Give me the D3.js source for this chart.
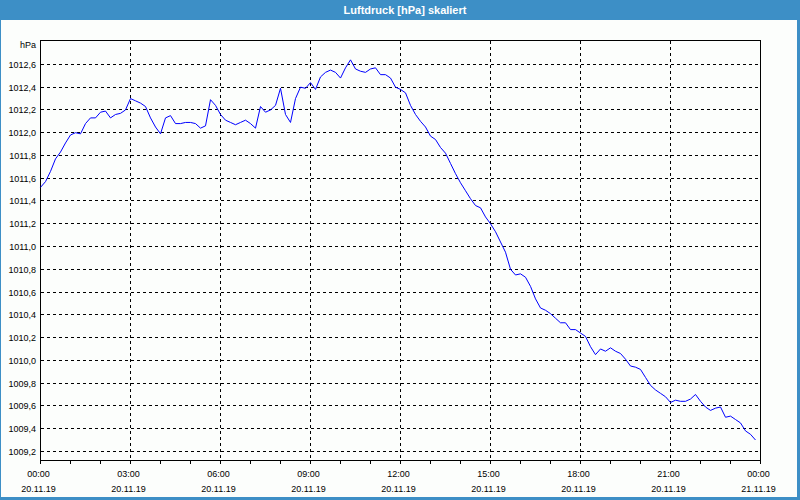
<!DOCTYPE html>
<html>
<head>
<meta charset="utf-8">
<script src="https://cdn.jsdelivr.net/npm/d3@7"></script>
<style>
  html, body { margin: 0; padding: 0; background: #fcfefc; }
  svg { display: block; }
  text { font-family: "Liberation Sans", Arial, sans-serif; }
</style>
</head>
<body>
<svg id="chart" width="800" height="500"></svg>
<script>
// ---- data ----
const title = "Luftdruck [hPa] skaliert";
const unitLabel = "hPa";
const startTime = "2019-11-20T00:00:00";
const endTime = "2019-11-21T00:00:00";
const sampleMinutes = 10;
// pressure values every 10 minutes from 00:00 to 23:50
const pressure = [
  1011.52, 1011.57, 1011.66, 1011.77, 1011.83, 1011.91, 1011.98, 1012.00, 1011.99, 1012.08,
  1012.13, 1012.13, 1012.18, 1012.19, 1012.13, 1012.16, 1012.17, 1012.20, 1012.30, 1012.28,
  1012.26, 1012.23, 1012.13, 1012.05, 1011.99, 1012.13, 1012.15, 1012.08, 1012.08, 1012.09,
  1012.09, 1012.08, 1012.04, 1012.06, 1012.29, 1012.24, 1012.16, 1012.11, 1012.09, 1012.07,
  1012.09, 1012.11, 1012.08, 1012.04, 1012.23, 1012.18, 1012.20, 1012.24, 1012.39, 1012.16,
  1012.09, 1012.30, 1012.40, 1012.39, 1012.44, 1012.38, 1012.49, 1012.53, 1012.55, 1012.53,
  1012.48, 1012.57, 1012.64, 1012.56, 1012.54, 1012.53, 1012.56, 1012.57, 1012.51, 1012.51,
  1012.48, 1012.40, 1012.38, 1012.35, 1012.24, 1012.16, 1012.10, 1012.05, 1011.97, 1011.94,
  1011.87, 1011.82, 1011.73, 1011.64, 1011.56, 1011.49, 1011.42, 1011.36, 1011.34, 1011.26,
  1011.20, 1011.13, 1011.04, 1010.95, 1010.80, 1010.75, 1010.76, 1010.73, 1010.65, 1010.54,
  1010.46, 1010.44, 1010.41, 1010.37, 1010.33, 1010.33, 1010.27, 1010.27, 1010.24, 1010.21,
  1010.12, 1010.05, 1010.10, 1010.08, 1010.11, 1010.08, 1010.06, 1010.01, 1009.95, 1009.94,
  1009.92, 1009.85, 1009.78, 1009.74, 1009.71, 1009.68, 1009.63, 1009.65, 1009.64, 1009.64,
  1009.66, 1009.70, 1009.64, 1009.59, 1009.56, 1009.58, 1009.59, 1009.50, 1009.51, 1009.48,
  1009.45, 1009.38, 1009.35, 1009.30
];
const yTicks = [1009.2, 1009.4, 1009.6, 1009.8, 1010.0, 1010.2, 1010.4, 1010.6, 1010.8,
                1011.0, 1011.2, 1011.4, 1011.6, 1011.8, 1012.0, 1012.2, 1012.4, 1012.6];
const yDomain = [1009.12, 1012.81];

// ---- layout ----
const W = 800, H = 500;
const L = 40.5, R = 760.5, T = 40.5, B = 460.5;
const blue = "#3d8fc6";

const svg = d3.select("#chart");
const t0 = new Date(startTime), t1 = new Date(endTime);
const x = d3.scaleTime().domain([t0, t1]).range([L, R]);
const y = d3.scaleLinear().domain(yDomain).range([B, T]);
const py = v => Math.round(y(v) - 0.5) + 0.5;

// background
svg.append("rect").attr("width", W).attr("height", H).attr("fill", "#fcfefc");

// title bar
svg.append("rect").attr("x", 0).attr("y", 0).attr("width", W).attr("height", 20).attr("fill", blue);
svg.append("text").attr("x", 405).attr("y", 14).attr("text-anchor", "middle")
  .attr("fill", "#ffffff").attr("font-weight", "bold").attr("font-size", "11px").text(title);

// window border
svg.append("rect").attr("x", 0).attr("y", 20).attr("width", 1).attr("height", H - 20).attr("fill", blue);
svg.append("rect").attr("x", W - 3).attr("y", 20).attr("width", 3).attr("height", H - 20).attr("fill", blue);
svg.append("rect").attr("x", 0).attr("y", H - 3).attr("width", W).attr("height", 3).attr("fill", blue);

// horizontal grid
const grid = svg.append("g").attr("stroke", "#000").attr("stroke-width", 1)
  .attr("stroke-dasharray", "3,3").attr("shape-rendering", "crispEdges");
grid.selectAll("line.h").data(yTicks).join("line").attr("class", "h")
  .attr("x1", L).attr("x2", R).attr("y1", py).attr("y2", py);

// vertical grid (every 3 hours)
const majorTicks = x.ticks(d3.timeHour.every(3));
grid.selectAll("line.v").data(majorTicks.filter(d => +d > +t0 && +d < +t1)).join("line").attr("class", "v")
  .attr("x1", d => x(d)).attr("x2", d => x(d)).attr("y1", T).attr("y2", B);

// hour ticks under axis
const hourTicks = x.ticks(d3.timeHour.every(1));
svg.append("g").attr("stroke", "#000").attr("shape-rendering", "crispEdges")
  .selectAll("line").data(hourTicks).join("line")
  .attr("x1", d => x(d)).attr("x2", d => x(d)).attr("y1", B).attr("y2", B + 3);

// frame
svg.append("rect").attr("x", L).attr("y", T).attr("width", R - L).attr("height", B - T)
  .attr("fill", "none").attr("stroke", "#000").attr("shape-rendering", "crispEdges");

// y labels
const fmtY = d => d3.format(".1f")(d).replace(".", ",");
svg.append("g").attr("font-size", "9px").attr("fill", "#000").attr("text-anchor", "end")
  .selectAll("text").data(yTicks).join("text")
  .attr("x", 36).attr("y", d => py(d) + 3).text(fmtY);
svg.append("text").attr("x", 36).attr("y", 48).attr("font-size", "9px").attr("text-anchor", "end")
  .attr("fill", "#000").text(unitLabel);

// x labels
const fmtT = d3.timeFormat("%H:%M"), fmtD = d3.timeFormat("%d.%m.%y");
const xl = svg.append("g").attr("font-size", "9px").attr("fill", "#000").attr("text-anchor", "middle");
xl.selectAll("text.t").data(majorTicks).join("text").attr("class", "t")
  .attr("x", d => x(d) - 2).attr("y", 477).text(fmtT);
xl.selectAll("text.d").data(majorTicks).join("text").attr("class", "d")
  .attr("x", d => x(d) - 2).attr("y", 492).text(fmtD);

// line
const series = pressure.map((v, i) => ({ t: d3.timeMinute.offset(t0, i * sampleMinutes), v }));
const line = d3.line().x(d => x(d.t)).y(d => y(d.v));
svg.append("path").datum(series).attr("d", line)
  .attr("fill", "none").attr("stroke", "#0000ff").attr("stroke-width", 1);
</script>
</body>
</html>
